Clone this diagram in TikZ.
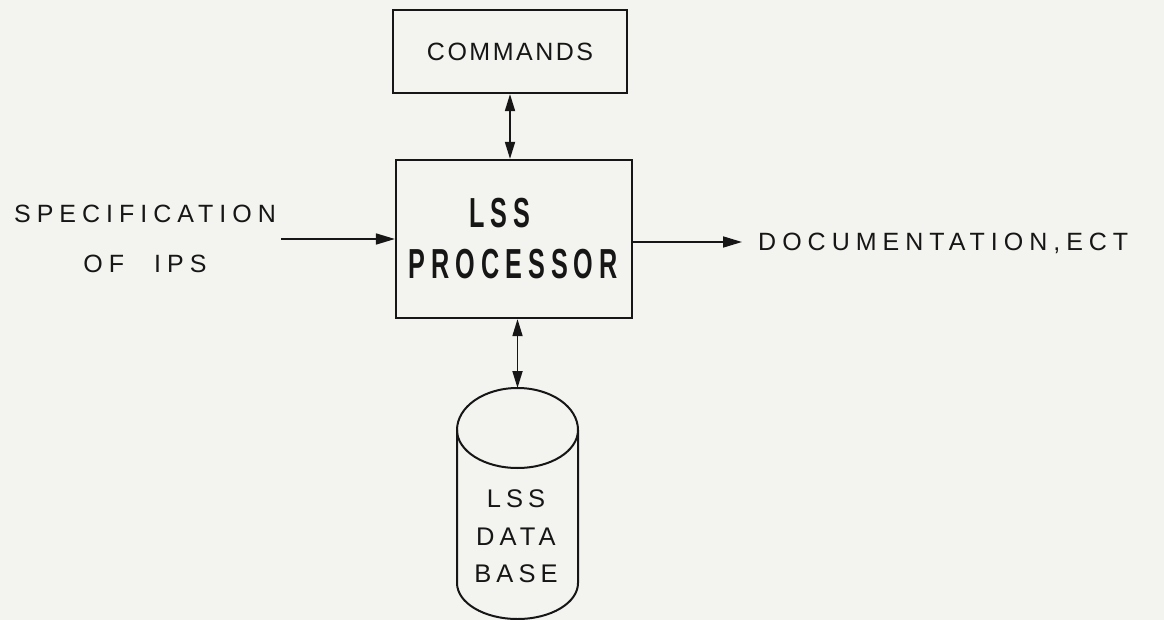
\documentclass[tikz,border=0pt]{standalone}
\usepackage{fontspec}
\setmainfont{Liberation Sans}
\newfontfamily\lblfont[LetterSpace=24]{Liberation Sans}
\newfontfamily\cmdfont[LetterSpace=10]{Liberation Sans}
\newfontfamily\dbfont[LetterSpace=20]{Liberation Sans}
\newfontfamily\bigfont[LetterSpace=24]{Liberation Sans}
\usetikzlibrary{arrows.meta}
\definecolor{paper}{RGB}{243,243,239}
\definecolor{ink}{RGB}{22,22,22}
\tikzset{
  box/.style={draw=ink, line width=2.2pt, inner sep=0pt},
  arr/.style={draw=ink, line width=1.7pt, -{Triangle[length=19pt,width=11pt]}},
  darr/.style={draw=ink, line width=1.7pt, {Triangle[length=17pt,width=10pt]}-{Triangle[length=17pt,width=10pt]}},
  lbl/.style={text=ink, inner sep=0pt, align=center, font=\fontsize{25}{50}\lblfont},
  dblbl/.style={text=ink, inner sep=0pt, align=center, font=\fontsize{25.5}{37.5}\dbfont},
}
\begin{document}
\begin{tikzpicture}[x=1pt,y=1pt]
\fill[paper] (0,0) rectangle (1164,-620);
\useasboundingbox (0,0) rectangle (1164,-620);
\begin{scope}
\clip (0,0) rectangle (1164,-620);
% commands box
\node[box, minimum width=234pt, minimum height=83pt, text=ink, font=\fontsize{25}{30}\cmdfont] (cmd) at (510,-51.5) {COMMANDS};
% processor
\node[box, minimum width=236pt, minimum height=158pt, text=ink, align=center, font=\fontsize{42}{51}\bigfont\bfseries] (proc) at (514,-239)
  {\hspace*{-28pt}\scalebox{0.6}[1]{LSS}\\\hspace*{-2pt}\scalebox{0.6}[1]{PROCESSOR}};
% specification
\node[lbl] (spec) at (145,-239) {SPECIFICATION\\OF\hspace{30pt}IPS};
% documentation
\node[lbl, anchor=west, text height=18pt, text depth=0pt] (doc) at (758,-242) {DOCUMENTATION,ECT};
% database cylinder
\coordinate (cyltop) at (517.5,-388);
\draw[draw=ink, line width=2pt] (457,-430) -- (457,-583)
  arc[start angle=180, end angle=360, x radius=60.5pt, y radius=36pt]
  -- (578,-430)
  arc[start angle=0, end angle=180, x radius=60.5pt, y radius=42pt];
\draw[draw=ink, line width=2pt] (457,-430)
  arc[start angle=180, end angle=360, x radius=60.5pt, y radius=38pt];
\node[dblbl] (db) at (516,-536.5) {LSS\\DATA\\BASE};
% connectors
\draw[darr] (cmd.south) -- (cmd.south |- proc.north);
\draw[darr] (cyltop |- proc.south) -- (cyltop);
\draw[arr] ([xshift=5pt]spec.east |- proc.west) -- (proc.west);
\draw[arr] (proc.east |- doc.west) -- ([xshift=-16pt]doc.west);
\end{scope}
\end{tikzpicture}
\end{document}
